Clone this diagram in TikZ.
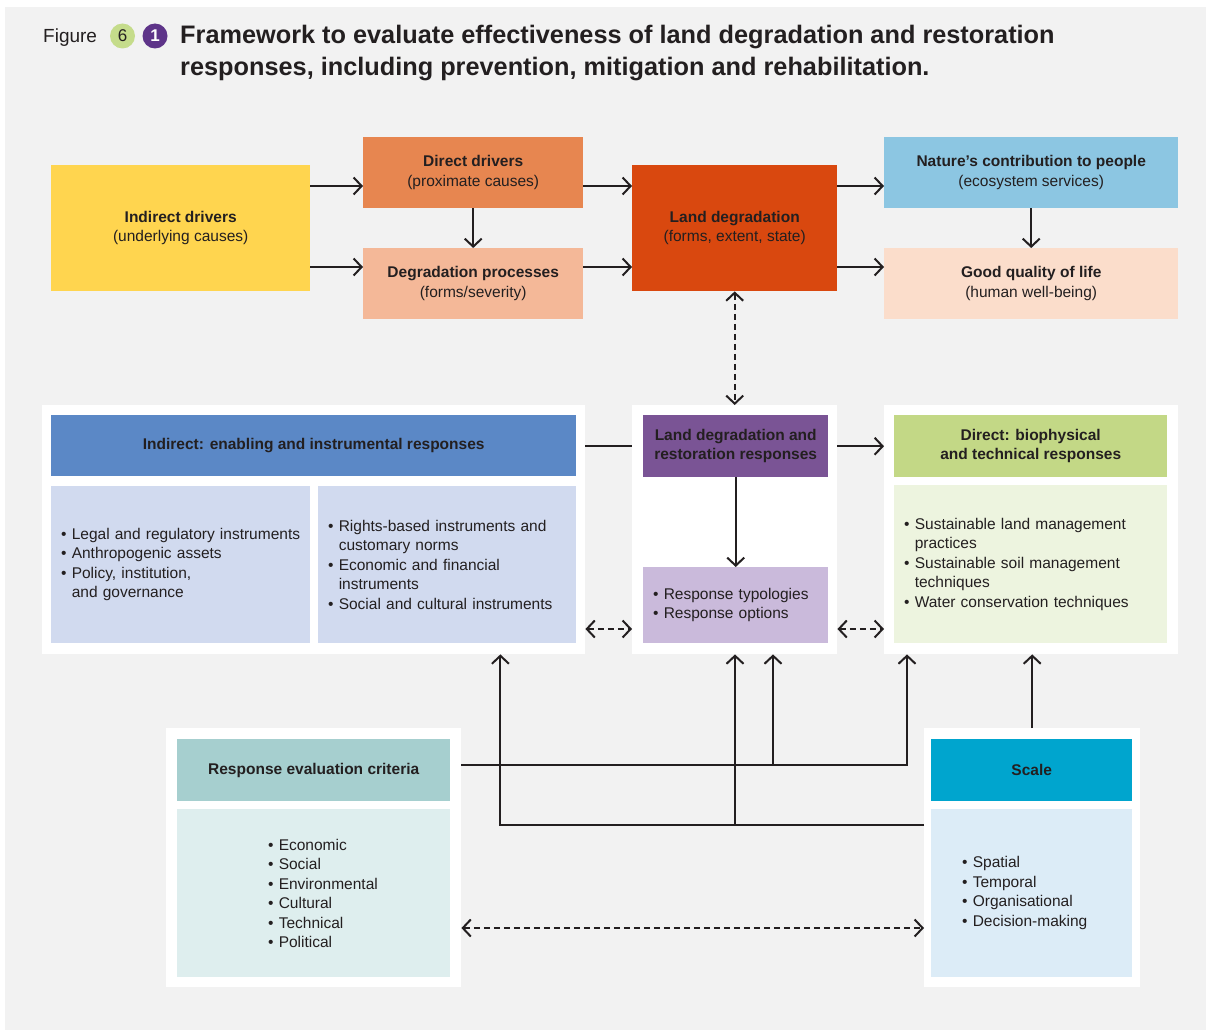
\documentclass[tikz,border=0pt]{standalone}
\usepackage{fontspec}
\setmainfont{Liberation Sans}
\usetikzlibrary{arrows.meta}

\definecolor{ink}{HTML}{231F20}
\definecolor{bggray}{HTML}{F2F2F2}
\definecolor{figgreen}{HTML}{C5DC8B}
\definecolor{figpurple}{HTML}{5E3489}
\definecolor{cYellow}{HTML}{FFD54F}
\definecolor{cOrange}{HTML}{E78650}
\definecolor{cSalmon}{HTML}{F4B898}
\definecolor{cRust}{HTML}{D9480F}
\definecolor{cSky}{HTML}{8CC6E2}
\definecolor{cPeach}{HTML}{FBDDCB}
\definecolor{cBlue}{HTML}{5B88C6}
\definecolor{cBlueLt}{HTML}{D1DAEF}
\definecolor{cPurple}{HTML}{7A5495}
\definecolor{cPurpleLt}{HTML}{CABADB}
\definecolor{cGreen}{HTML}{C3D886}
\definecolor{cGreenLt}{HTML}{EDF4DF}
\definecolor{cTeal}{HTML}{A6CFCF}
\definecolor{cTealLt}{HTML}{DEEEEE}
\definecolor{cCyan}{HTML}{00A5CE}
\definecolor{cCyanLt}{HTML}{DCECF7}

\newcommand{\itm}{\textbullet\ }
\newcommand{\cnt}{\phantom{\textbullet\ }}

\begin{document}
\begin{tikzpicture}[x=1pt, y=-1pt,
  every node/.style={font=\fontsize{15.5}{19.5}\selectfont, text=ink, inner sep=0pt},
  box/.style 2 args={anchor=north west, minimum width=#1pt, minimum height=#2pt, align=center},
  list/.style 2 args={anchor=north west, text width=#1pt, minimum height=#2pt, inner xsep=10pt, align=left},
  panel/.style 2 args={anchor=north west, fill=white, minimum width=#1pt, minimum height=#2pt},
  line/.style={draw=ink, line width=2pt},
  arr/.style={line, -{Straight Barb[length=8pt,width=17pt]}},
  darr/.style={line, dash pattern=on 6pt off 4pt, {Straight Barb[length=8pt,width=17pt]}-{Straight Barb[length=8pt,width=17pt]}}]
  \useasboundingbox (0,0) rectangle (1206,1030);
  \fill[white] (0,0) rectangle (1206,1030);
  \fill[bggray] (5,7) rectangle (1206,1030);

  % title
  \node[anchor=base west, font=\fontsize{19}{22}\selectfont] (fig) at (43,43) {Figure};
  \node[circle, fill=figgreen, minimum size=25pt, font=\fontsize{17}{18}\selectfont] (six) at (122.5,36) {6};
  \node[circle, fill=figpurple, text=white, minimum size=25pt, font=\fontsize{17}{18}\selectfont\bfseries] (one) at (155,36) {1};
  \node[anchor=north west, align=left, font=\fontsize{25.3}{32}\selectfont\bfseries] (title) at (180,25)
    {Framework to evaluate effectiveness of land degradation and restoration\\responses, including prevention, mitigation and rehabilitation.};

  % top row
  \coordinate (rowa) at (0,186);
  \coordinate (rowb) at (0,267);
  \node[box={259}{126}, fill=cYellow] (indirect) at (51,165) {\textbf{Indirect drivers}\\(underlying causes)};
  \node[box={220}{71}, fill=cOrange] (direct) at (363,137) {\textbf{Direct drivers}\\(proximate causes)};
  \node[box={220}{71}, fill=cSalmon] (process) at (363,248) {\textbf{Degradation processes}\\(forms/severity)};
  \node[box={205}{126}, fill=cRust] (land) at (632,165) {\textbf{Land degradation}\\(forms, extent, state)};
  \node[box={294}{71}, fill=cSky] (ncp) at (884,137) {\textbf{Nature’s contribution to people}\\(ecosystem services)};
  \node[box={294}{71}, fill=cPeach] (life) at (884,248) {\textbf{Good quality of life}\\(human well-being)};

  \draw[arr] (indirect.east |- rowa) -- (direct.west |- rowa);
  \draw[arr] (indirect.east |- rowb) -- (process.west |- rowb);
  \draw[arr] (direct) -- (process);
  \draw[arr] (direct.east |- rowa) -- (land.west |- rowa);
  \draw[arr] (process.east |- rowb) -- (land.west |- rowb);
  \draw[arr] (land.east |- rowa) -- (ncp.west |- rowa);
  \draw[arr] (land.east |- rowb) -- (life.west |- rowb);
  \draw[arr] (ncp) -- (life);

  % responses
  \node[panel={543}{249}] (lpanel) at (42,405) {};
  \node[box={525}{61}, fill=cBlue, font=\fontsize{15.5}{19.5}\selectfont\bfseries] (lhead) at (51,415) {Indirect: enabling and instrumental responses};
  \node[list={239}{157}, fill=cBlueLt] (lbodya) at (51,486)
    {\itm Legal and regulatory instruments\\\itm Anthropogenic assets\\\itm Policy, institution,\\\cnt and governance};
  \node[list={238}{157}, fill=cBlueLt] (lbodyb) at (318,486)
    {\itm Rights-based instruments and\\\cnt customary norms\\\itm Economic and financial\\\cnt instruments\\\itm Social and cultural instruments};

  \node[panel={205}{249}] (mpanel) at (632,405) {};
  \node[box={185}{62}, fill=cPurple, font=\fontsize{15.5}{18.5}\selectfont\bfseries] (mhead) at (643,415) {Land degradation and\\restoration responses};
  \node[list={165}{76}, fill=cPurpleLt] (mbody) at (643,567) {\itm Response typologies\\\itm Response options};

  \node[panel={294}{249}] (rpanel) at (884,405) {};
  \node[box={273}{62}, fill=cGreen, font=\fontsize{15.5}{18.5}\selectfont\bfseries] (rhead) at (894,415) {Direct: biophysical\\and technical responses};
  \node[list={253}{158}, fill=cGreenLt] (rbody) at (894,485)
    {\itm Sustainable land management\\\cnt practices\\\itm Sustainable soil management\\\cnt techniques\\\itm Water conservation techniques};

  \coordinate (rowc) at (0,629);
  \draw[darr] (land) -- (mpanel);
  \draw[line] (lpanel.east |- mhead.west) -- (mpanel.west |- mhead.west);
  \draw[arr] (mpanel.east |- mhead.east) -- (rpanel.west |- mhead.east);
  \draw[arr] (mhead) -- (mbody);
  \draw[darr] (lpanel.east |- rowc) -- (mpanel.west |- rowc);
  \draw[darr] (mpanel.east |- rowc) -- (rpanel.west |- rowc);

  % evaluation and scale
  \node[panel={295}{259}] (recpanel) at (166,728) {};
  \node[box={273}{62}, fill=cTeal, font=\fontsize{15.5}{19.5}\selectfont\bfseries] (rechead) at (177,739) {Response evaluation criteria};
  \node[list={253}{168}, fill=cTealLt] (recbody) at (177,809)
    {\hspace*{81pt}\itm Economic\\\hspace*{81pt}\itm Social\\\hspace*{81pt}\itm Environmental\\\hspace*{81pt}\itm Cultural\\\hspace*{81pt}\itm Technical\\\hspace*{81pt}\itm Political};

  \node[panel={216}{259}] (spanel) at (924,728) {};
  \node[box={201}{62}, fill=cCyan, font=\fontsize{15.5}{19.5}\selectfont\bfseries] (shead) at (931,739) {Scale};
  \node[list={139}{168}, inner xsep=31pt, fill=cCyanLt] (sbody) at (931,809)
    {\itm Spatial\\\itm Temporal\\\itm Organisational\\\itm Decision-making};

  \coordinate (recj) at (773,765);
  \coordinate (scj) at (735,825);
  \coordinate (rowd) at (0,928);
  \draw[arr] (recpanel.east |- recj) -| ([xshift=23pt]rpanel.south west);
  \draw[arr] (recj) -- (recj |- mpanel.south);
  \draw[arr] (spanel.west |- scj) -| ([xshift=-85pt]lpanel.south east);
  \draw[arr] (scj) -- (scj |- mpanel.south);
  \draw[arr] (spanel.north) -- (spanel.north |- rpanel.south);
  \draw[darr] (recpanel.east |- rowd) -- (spanel.west |- rowd);
\end{tikzpicture}
\end{document}
